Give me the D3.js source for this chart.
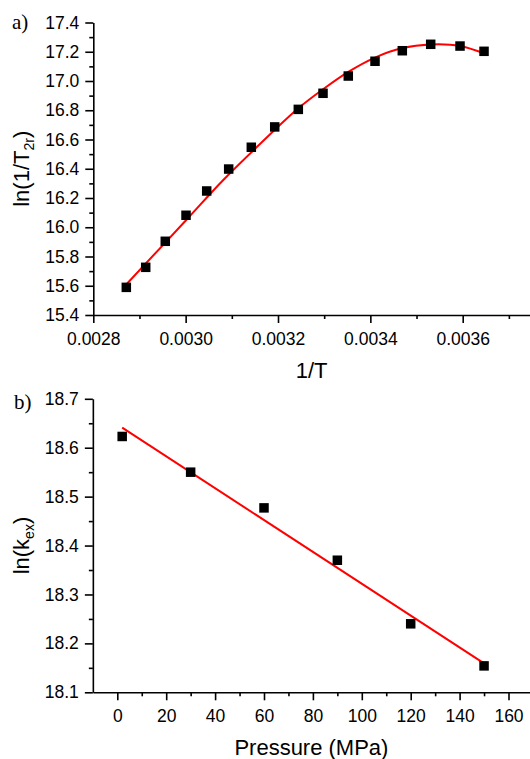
<!DOCTYPE html>
<html>
<head>
<meta charset="utf-8">
<script src="https://cdn.jsdelivr.net/npm/d3@7"></script>
<style>
  html, body { margin: 0; padding: 0; background: #fff; }
  svg { display: block; }
  .tick text { font-family: "Liberation Sans", Arial, sans-serif; font-size: 17.5px; fill: #000; }
</style>
</head>
<body>
<script>
// ---- Panel a) data ----
const invT = [0.0028715, 0.0029135, 0.0029559, 0.0030008, 0.0030456, 0.0030932, 0.0031422, 0.0031929,
              0.003244, 0.0032975, 0.0033522, 0.0034101, 0.0034692, 0.0035307, 0.0035942, 0.0036462];
const lnInvT2r = [15.589, 15.726, 15.904, 16.082, 16.248, 16.398, 16.547, 16.686,
                  16.806, 16.916, 17.034, 17.135, 17.207, 17.251, 17.239, 17.203];
// fitted curve
const fitA_x = [0.0028723, 0.0030008, 0.0030815, 0.0031610, 0.003244, 0.0032975, 0.0033522, 0.0034101, 0.0034692, 0.0035307, 0.0035942, 0.0036462];
const fitA_y = [15.612, 16.048, 16.323, 16.569, 16.813, 16.943, 17.062, 17.160, 17.225, 17.250, 17.240, 17.189];
const xTicksA = [0.0028, 0.0030, 0.0032, 0.0034, 0.0036];
const yTicksA = [15.4, 15.6, 15.8, 16.0, 16.2, 16.4, 16.6, 16.8, 17.0, 17.2, 17.4];

// ---- Panel b) data ----
const pressure = [2, 30, 60, 90, 120, 150];
const lnKex = [18.623, 18.550, 18.477, 18.370, 18.240, 18.154];
const fitB_x = [2, 150];
const fitB_y = [18.641, 18.159];
const xTicksB = [0, 20, 40, 60, 80, 100, 120, 140, 160];
const yTicksB = [18.1, 18.2, 18.3, 18.4, 18.5, 18.6, 18.7];

const W = 530, H = 759;
const svg = d3.select("body").append("svg").attr("width", W).attr("height", H);

function drawPanel(opt) {
  const g = svg.append("g");
  const x = d3.scaleLinear().domain(opt.xDomain).range(opt.xRange);
  const y = d3.scaleLinear().domain(opt.yDomain).range(opt.yRange);

  // minor ticks
  g.append("g").attr("transform", `translate(0,${opt.yRange[0]})`)
    .call(d3.axisBottom(x).tickValues(opt.xMinor).tickSize(4).tickSizeOuter(0).tickFormat(""))
    .call(s => s.select(".domain").remove())
    .call(s => s.selectAll("line").attr("stroke", "#000").attr("stroke-width", 1.6));
  g.append("g").attr("transform", `translate(${opt.xRange[0]},0)`)
    .call(d3.axisLeft(y).tickValues(opt.yMinor).tickSize(4).tickSizeOuter(0).tickFormat(""))
    .call(s => s.select(".domain").remove())
    .call(s => s.selectAll("line").attr("stroke", "#000").attr("stroke-width", 1.6));

  // major axes
  const xa = g.append("g").attr("transform", `translate(0,${opt.yRange[0]})`)
    .call(d3.axisBottom(x).tickValues(opt.xTicks).tickSize(8).tickSizeOuter(0).tickPadding(9.5).tickFormat(opt.xFmt));
  const ya = g.append("g").attr("transform", `translate(${opt.xRange[0]},0)`)
    .call(d3.axisLeft(y).tickValues(opt.yTicks).tickSize(8).tickSizeOuter(0).tickPadding(6).tickFormat(opt.yFmt));
  [xa, ya].forEach(a => {
    a.attr("font-family", null).attr("font-size", null);
    a.select(".domain").attr("stroke", "#000").attr("stroke-width", 1.6);
    a.selectAll("line").attr("stroke", "#000").attr("stroke-width", 1.6);
  });

  // fit line
  g.append("path")
    .datum(opt.fx.map((d, i) => [d, opt.fy[i]]))
    .attr("fill", "none").attr("stroke", "#ff0000").attr("stroke-width", 2)
    .attr("d", d3.line().x(d => x(d[0])).y(d => y(d[1])).curve(opt.curve));

  // markers
  const s = 9.5;
  g.selectAll("rect.pt").data(opt.px.map((d, i) => [d, opt.py[i]])).join("rect")
    .attr("class", "pt")
    .attr("x", d => x(d[0]) - s / 2).attr("y", d => y(d[1]) - s / 2)
    .attr("width", s).attr("height", s).attr("fill", "#000");

  // axis titles
  g.append("text").attr("x", (opt.xRange[0] + 530) / 2).attr("y", opt.xTitleY)
    .attr("text-anchor", "middle").attr("font-family", "Liberation Sans, Arial, sans-serif")
    .attr("font-size", 22).text(opt.xTitle);
  const yt = g.append("text")
    .attr("transform", `translate(29,${(opt.yRange[0] + opt.yRange[1]) / 2}) rotate(-90)`)
    .attr("text-anchor", "middle").attr("font-family", "Liberation Sans, Arial, sans-serif")
    .attr("font-size", 22);
  yt.append("tspan").text(opt.yTitle[0]);
  yt.append("tspan").attr("font-size", 14).attr("dy", 5).text(opt.yTitle[1]);
  yt.append("tspan").attr("dy", -5).text(opt.yTitle[2]);

  // panel letter
  g.append("text").attr("x", opt.letterPos[0]).attr("y", opt.letterPos[1])
    .attr("font-family", "Liberation Serif, Times New Roman, serif").attr("font-size", 21)
    .text(opt.letter);
}

drawPanel({
  xDomain: [0.0028, 0.00375], xRange: [93.3, 93.3 + 0.00095 / 0.0002 * 92.35],
  yDomain: [15.4, 17.4], yRange: [315, 22.5],
  xTicks: xTicksA, yTicks: yTicksA,
  xMinor: d3.range(0.0029, 0.00375, 0.0002), yMinor: d3.range(15.5, 17.4, 0.2),
  xFmt: d3.format(".4f"), yFmt: d3.format(".1f"),
  px: invT, py: lnInvT2r, fx: fitA_x, fy: fitA_y, curve: d3.curveCatmullRom,
  xTitle: "1/T", xTitleY: 378, yTitle: ["ln(1/T", "2r", ")"],
  letter: "a)", letterPos: [12, 29]
});

drawPanel({
  xDomain: [-10, 170], xRange: [92.85, 92.85 + 180 * 2.445],
  yDomain: [18.1, 18.7], yRange: [692.3, 398.8],
  xTicks: xTicksB, yTicks: yTicksB,
  xMinor: d3.range(10, 170, 20), yMinor: d3.range(18.15, 18.7, 0.1),
  xFmt: d3.format("d"), yFmt: d3.format(".1f"),
  px: pressure, py: lnKex, fx: fitB_x, fy: fitB_y, curve: d3.curveLinear,
  xTitle: "Pressure (MPa)", xTitleY: 755, yTitle: ["ln(k", "ex", ")"],
  letter: "b)", letterPos: [14, 409]
});
</script>
</body>
</html>
